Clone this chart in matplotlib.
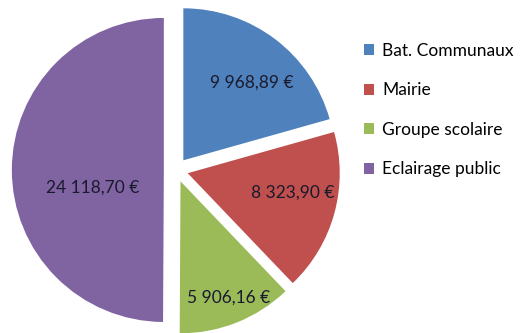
import numpy as np
import matplotlib
matplotlib.use('Agg')
from matplotlib import pyplot as plt

# Dépenses par poste
postes = ['Bat. Communaux', 'Mairie', 'Groupe scolaire', 'Eclairage public']
montants = [9968.89, 8323.90, 5906.16, 24118.70]
couleurs = ['#4F81BD', '#C0504D', '#9BBB59', '#8064A2']

def fmt_euro(v):
    s = '{:,.2f}'.format(v)
    return s.replace(',', ' ').replace('.', ',') + ' €'

plt.rcParams['font.family'] = ['Lato', 'DejaVu Sans']

W, H = 524, 333
fig = plt.figure(figsize=(W/100, H/100), dpi=100)

# axe carré centré sur le camembert
R = 152
cx, cy = 176, 163
k = 1.15
ax = fig.add_axes([(cx - k*R)/W, (cy - k*R)/H, 2*k*R/W, 2*k*R/H])

eclat = [0.08]*4
wedges, _ = ax.pie(montants, colors=couleurs, explode=eclat, startangle=90,
                   counterclock=False, radius=1,
                   wedgeprops=dict(linewidth=0, clip_on=False))
ax.set_xlim(-k, k)
ax.set_ylim(-k, k)
ax.set_aspect('equal')
ax.axis('off')

# position des étiquettes (distance au centre, décalage angulaire)
dist_lab = [0.68, 0.70, 0.83, 0.48]
dang_lab = [-4, 5, 0.5, 14.5]
for w, v, d, da in zip(wedges, montants, dist_lab, dang_lab):
    a = np.deg2rad((w.theta1 + w.theta2)/2)
    x0, y0 = w.center
    a2 = a + np.deg2rad(da)
    ax.text(x0 + d*np.cos(a2), y0 + d*np.sin(a2), fmt_euro(v),
            ha='center', va='center', fontsize=12.5, color='#1a1a2e')

leg = fig.legend(wedges, postes, loc='upper left',
                 bbox_to_anchor=(357/W, 1 - 36/H), frameon=False,
                 fontsize=12.5, handlelength=0.6, handleheight=0.6,
                 handletextpad=0.45, labelspacing=1.35, borderaxespad=0)

fig.savefig('out.png', dpi=100)
